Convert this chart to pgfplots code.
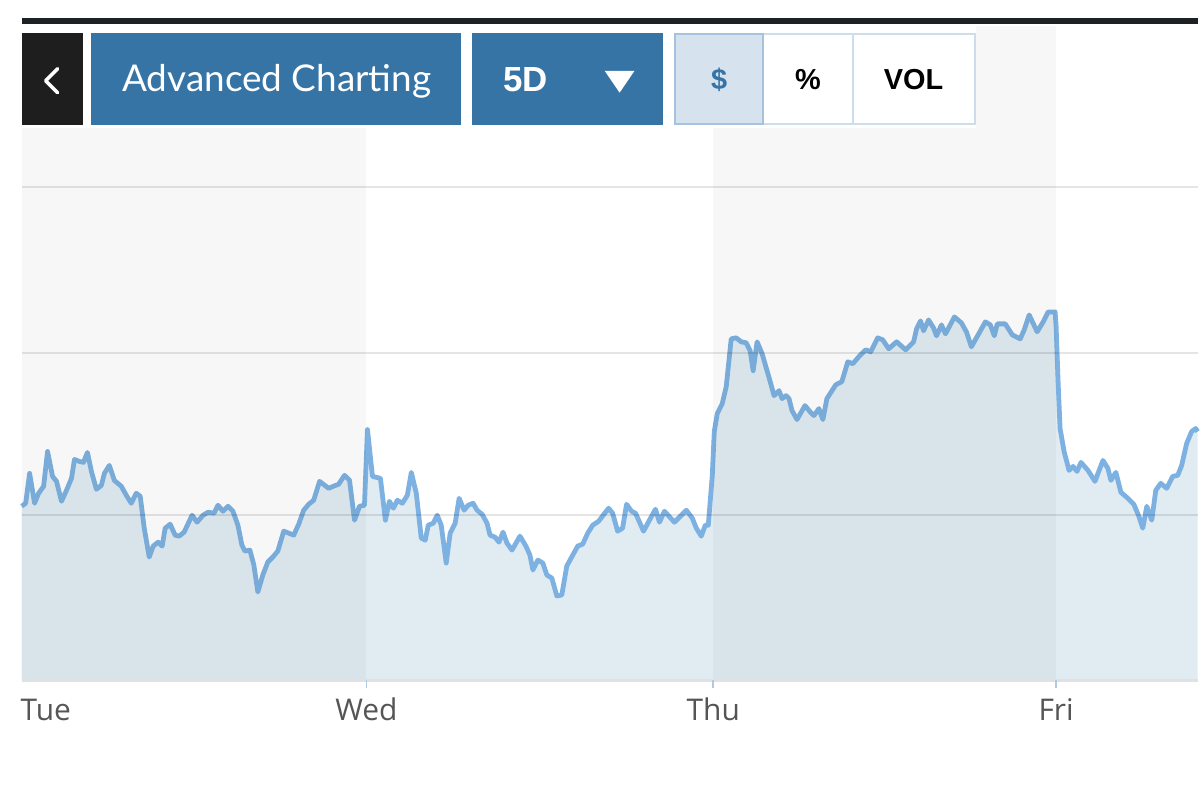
\documentclass[border=0pt]{standalone}
\usepackage{pgfplots}
\pgfplotsset{compat=1.18}
\usepgfplotslibrary{fillbetween}
\usepackage{fontspec}
\newfontfamily\opensans{Open Sans}
\newfontfamily\lato{Lato}
\newfontfamily\libsans{Liberation Sans}
\definecolor{linec}{RGB}{125,177,225}
\definecolor{areac}{RGB}{225,235,242}
\definecolor{btnblue}{RGB}{54,116,165}
\definecolor{btndark}{RGB}{30,30,30}
\definecolor{topbar}{RGB}{28,33,38}
\definecolor{selfill}{RGB}{214,227,238}
\definecolor{selborder}{RGB}{165,195,222}
\definecolor{btnborder}{RGB}{205,221,236}
\definecolor{ticklab}{RGB}{85,85,85}
\definecolor{tickc}{RGB}{175,200,228}
\definecolor{baselinec}{RGB}{225,225,225}
\begin{document}
\begin{tikzpicture}
\begin{axis}[
  set layers, axis on top,
  scale only axis, width=590pt, height=327pt,
  xmin=20, xmax=1200, ymin=-682, ymax=-28,
  clip=false,
  axis line style={draw=none},
  xtick={366,714,1058}, xticklabels={Wed,Thu,Fri},
  xtick pos=left, ytick pos=left, tick align=outside,
  x tick style={tickc, line width=0.8pt},
  major tick length=4pt,
  ytick={-188,-354,-517}, yticklabels={}, y tick style={draw=none},
  ymajorgrids, y grid style={black, opacity=0.1, line width=1pt},
  xticklabel style={font=\opensans\fontsize{15}{18}\selectfont, text=ticklab, anchor=base, yshift=-16.5pt},
  extra x ticks={20}, extra x tick labels={Tue},
  extra x tick style={x tick style={draw=none}, xticklabel style={anchor=base west, xshift=-4pt}},
]
\addplot[name path=price, draw=linec, line width=2.4pt, line join=round, mark=none] coordinates {
(20,-508)(24,-505)(28,-475)(33,-505)(37,-495)(42,-488)(46,-453)(51,-478)(55,-483)(60,-503)
(65,-492)(70,-480)(73,-461)(78,-463)(82,-464)(86,-454)(90,-473)(95,-491)(100,-487)(103,-475)
(108,-467)(113,-482)(120,-488)(125,-497)(130,-505)(135,-495)(139,-498)(143,-530)(148,-559)(152,-548)
(157,-544)(161,-548)(164,-530)(169,-526)(174,-537)(178,-538)(183,-534)(191,-517)(196,-524)(202,-517)
(207,-514)(213,-515)(217,-507)(222,-513)(227,-508)(232,-513)(237,-527)(241,-547)(244,-553)(249,-552)
(253,-567)(257,-594)(262,-577)(267,-564)(272,-559)(277,-553)(283,-533)(288,-535)(293,-537)(298,-526)
(303,-512)(308,-506)(313,-502)(319,-483)
(328,-490)(335,-487)(338,-486)(344,-477)(349,-482)(354,-522)(359,-508)(364,-507)(367,-431)(372,-478)
(380,-480)(385,-522)(389,-503)(393,-510)(397,-502)(402,-505)(407,-497)(411,-474)(416,-495)(421,-540)
(425,-542)(428,-527)(433,-525)(437,-517)(441,-527)(446,-565)(450,-535)(455,-525)(459,-500)(464,-512)
(468,-507)(473,-505)(477,-512)(482,-516)(487,-525)(490,-537)(495,-539)(499,-544)(503,-534)(507,-545)
(512,-552)(520,-538)(526,-548)(530,-557)(533,-572)(538,-562)(543,-565)(547,-577)(552,-580)(557,-598)
(562,-597)(567,-568)(573,-557)(578,-548)(583,-546)(588,-535)(593,-527)(599,-523)(605,-515)(609,-510)
(613,-515)(618,-533)(623,-530)(627,-506)(632,-513)(636,-515)(644,-533)(651,-520)(656,-511)(660,-524)
(665,-513)(675,-524)(687,-512)(693,-520)(697,-530)(702,-538)(706,-527)(709,-527)(713,-477)(715,-433)
(718,-415)(723,-405)(727,-388)(732,-340)(737,-339)(742,-343)(747,-344)(751,-352)(754,-372)(758,-343)
(763,-355)(770,-379)(775,-397)(780,-392)(783,-400)(787,-397)(790,-400)(793,-412)(798,-421)(806,-407)
(811,-413)(815,-417)(820,-410)(824,-421)(828,-400)(837,-386)(843,-383)(849,-363)(854,-365)(860,-358)
(867,-351)(872,-353)(879,-339)(884,-341)(890,-350)(898,-343)
(907,-351)(915,-343)(918,-330)(922,-322)(925,-332)(930,-321)(935,-329)(938,-337)(943,-326)(947,-335)
(956,-318)(963,-324)(968,-333)(973,-348)(982,-332)(987,-323)(992,-326)(996,-337)(999,-325)(1007,-325)
(1014,-336)(1022,-340)(1026,-331)(1031,-316)(1039,-333)(1045,-323)(1050,-313)(1057,-313)(1058,-327)(1060,-383)
(1062,-430)(1066,-453)(1071,-472)(1075,-468)(1079,-473)(1083,-464)(1090,-472)(1097,-483)(1105,-462)(1110,-470)
(1113,-482)(1118,-474)(1123,-494)(1130,-500)(1136,-506)(1141,-518)(1145,-530)(1149,-508)(1154,-522)(1158,-492)
(1163,-485)(1169,-490)(1175,-478)(1180,-477)(1184,-467)(1189,-445)(1194,-433)(1198,-430)(1200,-433)
};
\addplot[name path=base, draw=none, forget plot] coordinates {(20,-682) (1200,-682)};
\addplot[fill=areac, draw=none, forget plot] fill between[of=price and base];
% day bands
\fill[black, opacity=0.03] (axis cs:20,-26) rectangle (axis cs:366,-682);
\fill[black, opacity=0.03] (axis cs:714,-26) rectangle (axis cs:1058,-682);
\draw[baselinec, line width=1.2pt] (axis cs:20,-683) -- (axis cs:1200,-683);
% toolbar
\fill[white] (axis cs:20,-25) rectangle (axis cs:978,-128);
\fill[topbar] (axis cs:20,-18) rectangle (axis cs:1200,-24);
\fill[btndark] (axis cs:20,-33) rectangle (axis cs:82,-125);
\draw[white, line width=1.8pt, line cap=round, line join=round] (axis cs:56,-69) -- (axis cs:44,-81) -- (axis cs:56,-93);
\fill[btnblue] (axis cs:90,-33) rectangle (axis cs:461,-125);
\node[anchor=base, text=white, inner sep=0pt, font=\lato\fontsize{18.5}{20}\selectfont] at (axis cs:276,-92) {Advanced Charting};
\fill[btnblue] (axis cs:472,-33) rectangle (axis cs:664,-125);
\node[anchor=base west, text=white, inner sep=0pt, font=\libsans\bfseries\fontsize{17.5}{20}\selectfont] at (axis cs:503,-92) {5D};
\fill[white] (axis cs:605,-71) -- (axis cs:635,-71) -- (axis cs:620,-93) -- cycle;
\filldraw[fill=white, draw=btnborder, line width=1pt] (axis cs:764,-34) rectangle (axis cs:854,-124);
\filldraw[fill=white, draw=btnborder, line width=1pt] (axis cs:854,-34) rectangle (axis cs:977,-124);
\filldraw[fill=selfill, draw=selborder, line width=1pt] (axis cs:676,-34) rectangle (axis cs:764,-124);
\node[anchor=base, text=btnblue, inner sep=0pt, font=\libsans\bfseries\fontsize{14.5}{16}\selectfont] at (axis cs:720,-90) {\$};
\node[anchor=base, text=black, inner sep=0pt, font=\libsans\bfseries\fontsize{14.5}{16}\selectfont] at (axis cs:809,-90) {\%};
\node[anchor=base, text=black, inner sep=0pt, font=\libsans\bfseries\fontsize{14.5}{16}\selectfont] at (axis cs:915,-90) {VOL};
\path (axis cs:0,0) rectangle (axis cs:1200,-800);
\end{axis}
\end{tikzpicture}
\end{document}
